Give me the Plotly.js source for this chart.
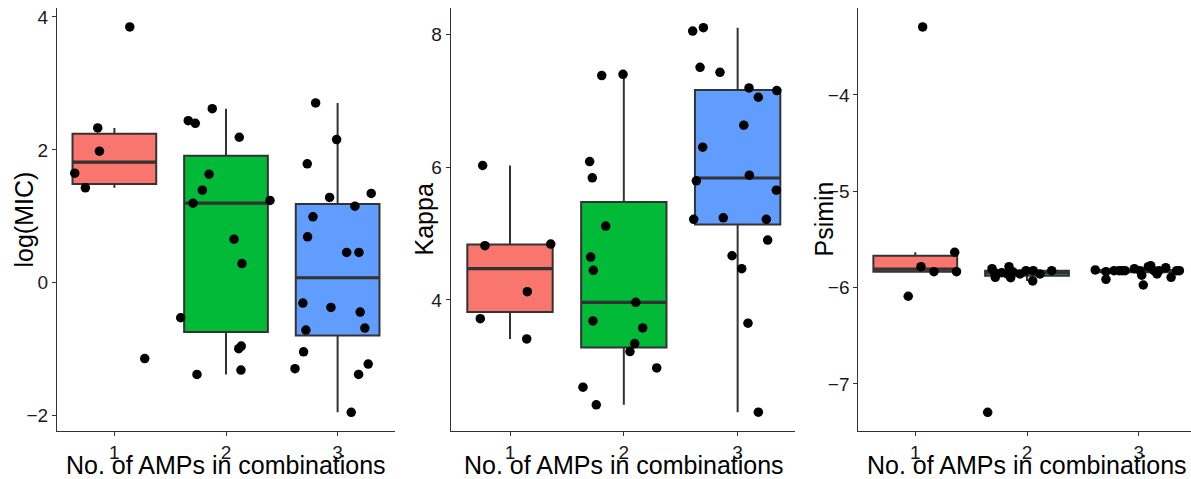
<!DOCTYPE html>
<html>
<head>
<meta charset="utf-8">
<script src="https://cdn.plot.ly/plotly-3.0.1.min.js"></script>
<style>html,body{margin:0;padding:0;background:#fff;}#chart{width:1191px;height:479px;}</style>
</head>
<body>
<div id="chart"></div>
<script>
// Categories and labels
const categories = [1, 2, 3];
const tickLabels = ['1', '2', '3'];
const xTitle = 'No. of AMPs in combinations';
const yTitles = ['log(MIC)', 'Kappa', 'Psimin'];
const yTicks1 = [-2, 0, 2, 4];
const yTicks2 = [4, 6, 8];
const yTicks3 = [-7, -6, -5, -4];
const groupColors = ['#F8766D', '#00BA38', '#619CFF'];

// Panel 1: log(MIC)
const logMIC_g1 = [3.85, 2.33, 1.98, 1.65, 1.43, -1.14];
const logMIC_x1 = [1.138, 0.851, 0.866, 0.645, 0.740, 1.272];
const logMIC_g2 = [2.44, 2.40, 2.62, 2.19, 1.635, 1.394, 1.198, 1.239, 0.657, 0.29, -0.526, -0.992, -0.952, -1.313, -1.378];
const logMIC_x2 = [1.662, 1.725, 1.877, 2.119, 1.848, 1.788, 1.705, 2.394, 2.072, 2.143, 1.594, 2.114, 2.137, 2.134, 1.740];
const logMIC_g3 = [2.707, 2.156, 1.79, 1.284, 1.344, 1.153, 0.992, 0.692, 0.457, 0.457, -0.305, -0.37, -0.441, -0.711, -0.681, -1.038, -1.293, -1.223, -1.378, -1.949];
const logMIC_x3 = [2.803, 2.991, 2.728, 2.928, 3.301, 3.155, 2.779, 2.731, 3.081, 3.191, 2.689, 2.940, 3.202, 2.716, 3.244, 2.695, 2.618, 3.274, 3.188, 3.122];

// Panel 2: Kappa
const kappa_g1 = [6.025, 4.817, 4.842, 4.125, 3.719, 3.414];
const kappa_x1 = [0.760, 0.780, 1.358, 1.152, 0.739, 1.147];
const kappa_g2 = [7.379, 7.398, 6.085, 5.839, 5.113, 4.647, 4.447, 3.965, 3.684, 3.579, 3.343, 3.223, 2.977, 2.687, 2.421];
const kappa_x2 = [1.806, 1.993, 1.700, 1.723, 1.841, 1.709, 1.732, 2.105, 1.729, 2.166, 2.096, 2.054, 2.289, 1.641, 1.758];
const kappa_g3 = [8.050, 8.101, 7.504, 7.429, 7.193, 7.153, 7.053, 6.632, 6.301, 5.88, 5.794, 5.654, 5.214, 5.238, 5.214, 4.902, 4.666, 4.471, 3.65, 2.311];
const kappa_x3 = [2.605, 2.699, 2.670, 2.845, 3.100, 3.344, 3.182, 3.054, 2.693, 3.103, 2.637, 3.340, 2.614, 2.874, 3.252, 3.264, 2.951, 3.036, 3.091, 3.182];

// Panel 3: Psimin
const psimin_g1 = [-3.294, -5.633, -5.783, -5.835, -5.835, -6.09];
const psimin_x1 = [1.066, 1.353, 1.051, 1.167, 1.369, 0.937];
const psimin_g2 = [-7.295, -5.804, -5.893, -5.845, -5.783, -5.859, -5.897, -5.838, -5.824, -5.824, -5.931, -5.859, -5.824, -5.845, -5.859];
const psimin_x2 = [1.648, 1.687, 1.716, 1.774, 1.839, 1.824, 1.854, 1.877, 1.991, 2.056, 2.051, 2.116, 2.221, 1.711, 1.937];
const psimin_g3 = [-5.817, -5.914, -5.835, -5.824, -5.824, -5.824, -5.804, -5.824, -5.872, -5.973, -5.783, -5.773, -5.859, -5.824, -5.793, -5.893, -5.824, -5.824, -5.824, -5.824];
const psimin_x3 = [2.611, 2.707, 2.707, 2.779, 2.824, 2.878, 2.961, 3.012, 3.027, 3.041, 3.086, 3.107, 3.164, 3.182, 3.242, 3.290, 3.340, 3.364, 2.851, 3.137];

const panels = [
  {vals: [logMIC_g1, logMIC_g2, logMIC_g3], xs: [logMIC_x1, logMIC_x2, logMIC_x3]},
  {vals: [kappa_g1, kappa_g2, kappa_g3], xs: [kappa_x1, kappa_x2, kappa_x3]},
  {vals: [psimin_g1, psimin_g2, psimin_g3], xs: [psimin_x1, psimin_x2, psimin_x3]}
];

function quant(s, p) {
  const h = (s.length - 1) * p, lo = Math.floor(h), hi = Math.min(lo + 1, s.length - 1);
  return s[lo] + (h - lo) * (s[hi] - s[lo]);
}
function stats(v) {
  const s = v.slice().sort((a, b) => a - b);
  const q1 = quant(s, 0.25), med = quant(s, 0.5), q3 = quant(s, 0.75);
  const iqr = q3 - q1;
  const lf = Math.min(...s.filter(d => d >= q1 - 1.5 * iqr));
  const uf = Math.max(...s.filter(d => d <= q3 + 1.5 * iqr));
  return {q1, med, q3, lf, uf};
}

const boxW = 0.75;
const traces = [];
const medians = [];
const points = [];
panels.forEach((p, pi) => {
  const xa = pi === 0 ? 'x' : 'x' + (pi + 1);
  const ya = pi === 0 ? 'y' : 'y' + (pi + 1);
  p.vals.forEach((v, gi) => {
    const st = stats(v);
    const c = categories[gi];
    traces.push({
      type: 'box', x: [c], q1: [st.q1], median: [st.med], q3: [st.q3],
      lowerfence: [st.lf], upperfence: [st.uf], width: boxW,
      fillcolor: groupColors[gi], line: {color: '#333333', width: 2},
      whiskerwidth: 0, boxpoints: false, xaxis: xa, yaxis: ya,
      showlegend: false, hoverinfo: 'skip'
    });
    medians.push({
      type: 'scatter', mode: 'lines', x: [c - boxW / 2, c + boxW / 2], y: [st.med, st.med],
      line: {color: '#333333', width: 3.2}, xaxis: xa, yaxis: ya,
      showlegend: false, hoverinfo: 'skip'
    });
    points.push({
      type: 'scatter', mode: 'markers', x: p.xs[gi], y: v,
      marker: {color: '#000000', size: 9.5}, xaxis: xa, yaxis: ya,
      showlegend: false, hoverinfo: 'skip'
    });
  });
});

const FAM = 'Liberation Sans, Arial, sans-serif';
const tickFont = {family: FAM, size: 19, color: '#1a1a1a'};
const titleFont = {family: FAM, size: 25, color: '#000000'};
const fmt = v => String(v).replace('-', '\u2212');

function xAxis(domain, range, anchor) {
  return {
    domain: domain, range: range, anchor: anchor,
    tickvals: categories, ticktext: tickLabels,
    showline: true, linecolor: '#333333', linewidth: 1,
    ticks: 'outside', ticklen: 4, tickwidth: 1, tickcolor: '#333333',
    showgrid: false, zeroline: false, tickfont: tickFont
  };
}
function yAxis(domain, range, tickvals, anchor) {
  return {
    domain: domain, range: range, anchor: anchor,
    tickvals: tickvals, ticktext: tickvals.map(fmt),
    showline: true, linecolor: '#333333', linewidth: 1,
    ticks: 'outside', ticklen: 4, tickwidth: 1, tickcolor: '#333333',
    showgrid: false, zeroline: false, tickfont: tickFont
  };
}

const yDom = [1 - 431 / 479, 1 - 8 / 479];
const yMid = (yDom[0] + yDom[1]) / 2;
const annotations = [];
['x', 'x2', 'x3'].forEach(xr => {
  annotations.push({
    text: xTitle, xref: xr, x: categories[1], yref: 'paper', y: (479 - 465) / 479,
    xanchor: 'center', yanchor: 'middle', showarrow: false, font: titleFont
  });
});
[23, 423, 823].forEach((px, i) => {
  annotations.push({
    text: yTitles[i], xref: 'paper', x: px / 1191, yref: 'paper', y: yMid,
    xanchor: 'center', yanchor: 'middle', textangle: -90, showarrow: false, font: titleFont
  });
});

const layout = {
  width: 1191, height: 479,
  margin: {l: 0, r: 0, t: 0, b: 0},
  paper_bgcolor: '#ffffff', plot_bgcolor: '#ffffff',
  font: {family: FAM, color: '#000000'}, boxmode: 'overlay', showlegend: false,
  xaxis: xAxis([57 / 1191, 395 / 1191], [0.486, 3.514], 'y'),
  yaxis: yAxis(yDom, [-2.23, 4.135], yTicks1, 'x'),
  xaxis2: xAxis([450.7 / 1191, 795 / 1191], [0.479, 3.504], 'y2'),
  yaxis2: yAxis(yDom, [2.027, 8.397], yTicks2, 'x2'),
  xaxis3: xAxis([858.3 / 1191, 1], [0.49, 3.468], 'y3'),
  yaxis3: yAxis(yDom, [-7.489, -3.097], yTicks3, 'x3'),
  annotations: annotations
};

Plotly.newPlot('chart', traces.concat(medians, points), layout, {displayModeBar: false, staticPlot: true});
</script>
</body>
</html>
